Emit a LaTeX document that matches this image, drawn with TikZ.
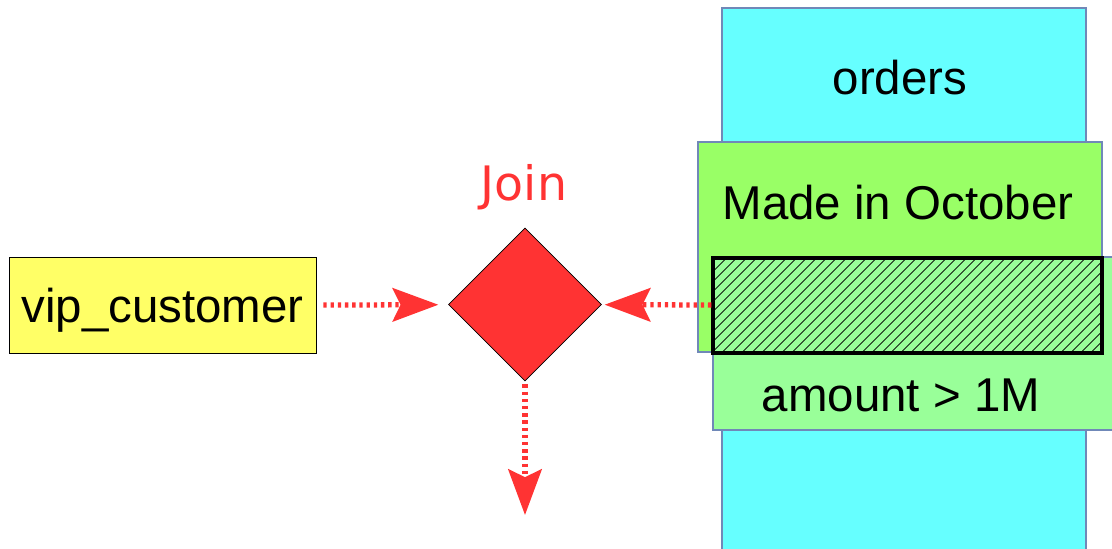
\documentclass[tikz,border=0pt]{standalone}
\usepackage{fontspec}
\setmainfont{Liberation Sans}
\newfontfamily\joinfont{DejaVu Sans}
\usetikzlibrary{shapes.geometric,arrows.meta,patterns.meta}

\definecolor{tablecyan}{HTML}{66FFFF}
\definecolor{monthgreen}{HTML}{99FF66}
\definecolor{amountgreen}{HTML}{99FF99}
\definecolor{vipyellow}{HTML}{FFFF66}
\definecolor{joinred}{HTML}{FF3333}
\definecolor{frameblue}{HTML}{7088B8}

\begin{document}
\begin{tikzpicture}[thin,
			table/.style={draw=frameblue,line width=0.6pt,inner sep=0pt},
			big/.style={font=\fontsize{27}{32}\selectfont},
			hatch/.style={draw=black,line width=1.9pt,fill=amountgreen,
				postaction={pattern={Lines[angle=45,distance=4pt,line width=0.55pt]},pattern color=black}},
			flow/.style={draw=joinred,line width=3pt,dash pattern=on 1.9pt off 2.2pt,
				-{Stealth[length=26pt,width=19pt,inset=4.5pt]}}
			]
		\useasboundingbox (0,0) rectangle (22.24,10.98);

		% the orders table and its two filters
		\node [table, fill=tablecyan, minimum width=7.28cm, minimum height=11cm] (orders) at (18.08,5.32) {};
		\node [big] (orderslbl) at (18.0,9.42) {orders};
		\node [table, fill=monthgreen, minimum width=8.08cm, minimum height=4.2cm] (october) at (18.0,6.04) {};
		\node [big] (octoberlbl) at (17.96,6.92) {Made in October};
		\node [table, fill=amountgreen, minimum width=8.14cm, minimum height=3.46cm] (amount) at (18.33,4.11) {};
		\node [big] (amountlbl) at (18.02,3.07) {amount > 1M};
		\node [hatch, minimum width=7.78cm, minimum height=1.9cm] (both) at (18.15,4.87) {};

		\node [big, draw=black, fill=vipyellow, minimum width=6.14cm, minimum height=1.92cm, inner sep=0pt,
			text height=25pt, text depth=5.7pt] (vip) at (3.25,4.87) {vip\_customer};

		% join operator
		\node [diamond, draw=black, fill=joinred, minimum size=3.06cm, inner sep=0pt] (join) at (10.5,4.89) {};
		\node [text=joinred, font=\joinfont\fontsize{27}{30}\selectfont] (joinlbl) at (10.48,7.24) {Join};
		\coordinate (result) at (10.5,0.68);

		\draw [flow, shorten <=0.14cm, shorten >=0.2cm] (vip) -- (join);
		\draw [flow, shorten >=0.06cm] (both) -- (join);
		\draw [flow, shorten <=0.06cm] (join) -- (result);
		\end{tikzpicture}
\end{document}
